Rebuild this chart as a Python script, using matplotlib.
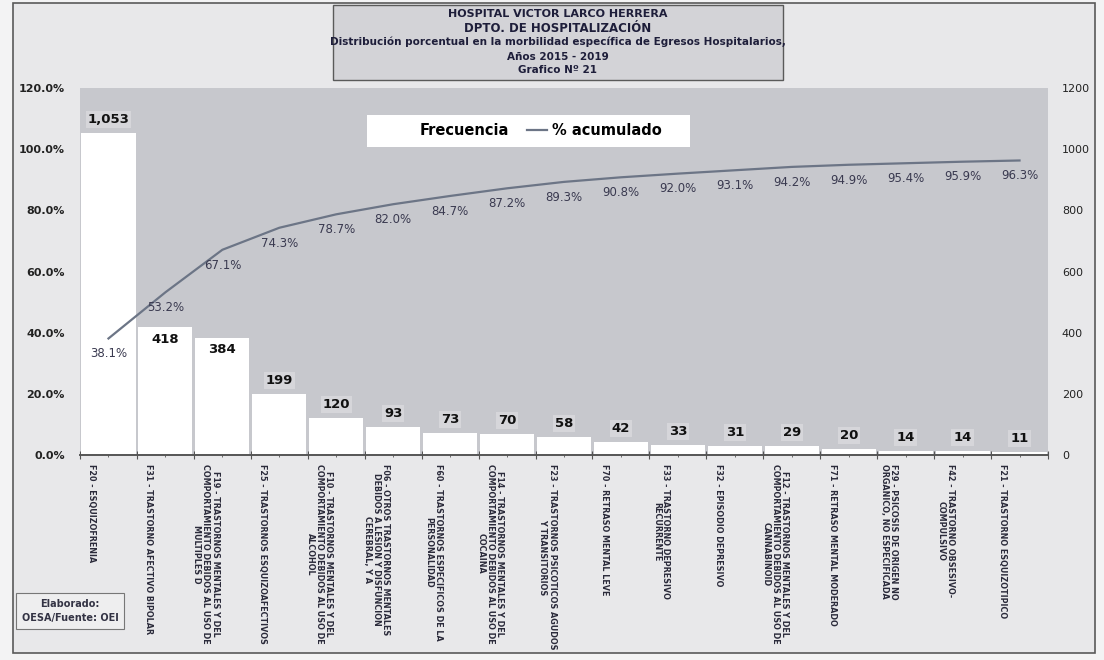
import numpy as np
import matplotlib
matplotlib.use("Agg")
import matplotlib.pyplot as plt
from matplotlib import font_manager
from matplotlib.patches import Rectangle, Patch
from matplotlib.lines import Line2D
import matplotlib.transforms as mtransforms

# data
categories = [
    "F20 - ESQUIZOFRENIA",
    "F31 - TRASTORNO AFECTIVO BIPOLAR",
    "F19 - TRASTORNOS MENTALES Y DEL\nCOMPORTAMIENTO DEBIDOS AL USO DE\nMULTIPLES D",
    "F25 - TRASTORNOS ESQUIZOAFECTIVOS",
    "F10 - TRASTORNOS MENTALES Y DEL\nCOMPORTAMIENTO DEBIDOS AL USO DE\nALCOHOL",
    "F06 - OTROS TRASTORNOS MENTALES\nDEBIDOS A LESION Y DISFUNCION\nCEREBRAL, Y A",
    "F60 - TRASTORNOS ESPECIFICOS DE LA\nPERSONALIDAD",
    "F14 - TRASTORNOS MENTALES Y DEL\nCOMPORTAMIENTO DEBIDOS AL USO DE\nCOCAINA",
    "F23 - TRASTORNOS PSICOTICOS AGUDOS\nY TRANSITORIOS",
    "F70 - RETRASO MENTAL LEVE",
    "F33 - TRASTORNO DEPRESIVO\nRECURRENTE",
    "F32 - EPISODIO DEPRESIVO",
    "F12 - TRASTORNOS MENTALES Y DEL\nCOMPORTAMIENTO DEBIDOS AL USO DE\nCANNABINOID",
    "F71 - RETRASO MENTAL MODERADO",
    "F29 - PSICOSIS DE ORIGEN NO\nORGANICO, NO ESPECIFICADA",
    "F42 - TRASTORNO OBSESIVO-\nCOMPULSIVO",
    "F21 - TRASTORNO ESQUIZOTIPICO",
]
frecuencia = [1053, 418, 384, 199, 120, 93, 73, 70, 58, 42, 33, 31, 29, 20, 14, 14, 11]
pct_acumulado = [38.1, 53.2, 67.1, 74.3, 78.7, 82.0, 84.7, 87.2, 89.3, 90.8,
                 92.0, 93.1, 94.2, 94.9, 95.4, 95.9, 96.3]
pct_ticks = [0, 20, 40, 60, 80, 100, 120]
freq_ticks = [0, 200, 400, 600, 800, 1000, 1200]

title_lines = [
    "HOSPITAL VICTOR LARCO HERRERA",
    "DPTO. DE HOSPITALIZACIÓN",
    "Distribución porcentual en la morbilidad específica de Egresos Hospitalarios,",
    "Años 2015 - 2019",
    "Grafico Nº 21",
]

# narrow face for the long category labels if we have one
names = {f.name for f in font_manager.fontManager.ttflist}
if "Liberation Sans Narrow" in names:
    label_family, label_size = "Liberation Sans Narrow", 7.0
else:
    label_family, label_size = "DejaVu Sans", 5.8

W, H = 1104, 660
fig = plt.figure(figsize=(W / 100, H / 100), dpi=100)
fig.patch.set_facecolor("#f3f3f4")

def px_rect(x0, y0, x1, y1):
    # pixel box (top-left origin) -> figure fraction rect
    return (x0 / W, 1 - y1 / H, (x1 - x0) / W, (y1 - y0) / H)

# outer frame of the chart
fx, fy, fw, fh = px_rect(13, 3, 1095, 653)
fig.patches.append(Rectangle((fx, fy), fw, fh, transform=fig.transFigure,
                             facecolor="#e8e8ea", edgecolor="#5a5a5a", lw=1.2, zorder=-5))

# title box
tx, ty, tw, th = px_rect(333, 5, 783, 80)
fig.patches.append(Rectangle((tx, ty), tw, th, transform=fig.transFigure,
                             facecolor="#d3d3d7", edgecolor="#5a5a5a", lw=1.0, zorder=-4))
title_y = [14, 28, 42, 57, 70]
title_size = [8, 8.5, 7.5, 7.5, 7.5]
for line, yy, fs in zip(title_lines, title_y, title_size):
    fig.text(558 / W, 1 - yy / H, line, ha="center", va="center",
             fontsize=fs, fontweight="bold", color="#1e1e3a", family="DejaVu Sans")

# axes: bars on primary (right scale), line on twin (left scale)
ax = fig.add_axes(px_rect(80, 88, 1048, 455))
ax.set_facecolor("#c7c8cd")
x = np.arange(len(frecuencia))
ax.bar(x, frecuencia, width=0.95, color="white", edgecolor="none", zorder=2)
ax.set_xlim(-0.5, len(frecuencia) - 0.5)
ax.set_ylim(0, 1200)

ax2 = ax.twinx()   # twinx puts ax's ticks back on the left, so set sides after this

ax.yaxis.tick_right()
ax.yaxis.set_label_position("right")
ax.set_yticks(freq_ticks)
ax.tick_params(axis="y", which="both", left=False, labelleft=False, right=False,
               labelright=True, length=0, pad=10, labelsize=8, labelcolor="#222222")

for s in ["top", "left", "right"]:
    ax.spines[s].set_visible(False)
ax.spines["bottom"].set_color("#555555")
ax.spines["bottom"].set_linewidth(1.4)

ax.set_xticks(np.arange(-0.5, len(frecuencia), 1))
ax.set_xticklabels([])
ax.set_xticks(x, categories, minor=True)
ax.tick_params(axis="x", which="major", direction="inout", length=6, color="#555555")
ax.tick_params(axis="x", which="minor", direction="inout", length=3, color="#555555", pad=5)
shift = mtransforms.ScaledTranslation(-12 / 72, 0, fig.dpi_scale_trans)
for lbl in ax.get_xticklabels(minor=True):
    lbl.set_rotation(270)
    lbl.set_ha("center")
    lbl.set_va("top")
    lbl.set_multialignment("center")
    lbl.set_family(label_family)
    lbl.set_fontsize(label_size)
    lbl.set_fontweight("bold")
    lbl.set_color("#2a2a3a")
    lbl.set_linespacing(1.05)
    lbl.set_transform(lbl.get_transform() + shift)

# bar value labels (two of them sit inside the bar in the original)
inside = {1, 2}
for i, v in enumerate(frecuencia):
    txt = f"{v:,}"
    if i in inside:
        ax.annotate(txt, (i, v), xytext=(0, -4), textcoords="offset points",
                    ha="center", va="top", fontsize=9.5, fontweight="bold", color="#111111", zorder=4)
    else:
        ax.annotate(txt, (i, v), xytext=(0, 5), textcoords="offset points",
                    ha="center", va="bottom", fontsize=9.5, fontweight="bold", color="#111111", zorder=4,
                    bbox=dict(boxstyle="square,pad=0.15", facecolor="#d6d6da", edgecolor="none"))

ax2.plot(x, pct_acumulado, color="#6c7586", lw=1.6, zorder=3)
ax2.set_ylim(0, 120)
ax2.yaxis.tick_left()
ax2.set_yticks(pct_ticks)
ax2.set_yticklabels([f"{t:.1f}%" for t in pct_ticks])
ax2.tick_params(axis="y", left=False, right=False, labelright=False, labelleft=True,
                length=0, pad=11, labelsize=8, labelcolor="#222222")
for lbl in ax2.get_yticklabels():
    lbl.set_fontweight("bold")
for s in ["top", "left", "right", "bottom"]:
    ax2.spines[s].set_visible(False)

for i, p in enumerate(pct_acumulado):
    ax2.annotate(f"{p:.1f}%", (i, p), xytext=(0, -11), textcoords="offset points",
                 ha="center", va="center", fontsize=8.5, color="#3a3a50")

# legend on a white strip
lx0 = (367 - 80) / 968
ly0 = (455 - 147) / 367
ax2.add_patch(Rectangle((lx0, ly0), (690 - 367) / 968, 32 / 367, transform=ax2.transAxes,
                        facecolor="white", edgecolor="none", zorder=5))
handles = [Patch(facecolor="white", edgecolor="none"),
           Line2D([], [], color="#6c7586", lw=1.6)]
leg = ax2.legend(handles, ["Frecuencia", "% acumulado"], ncol=2, frameon=False,
                 loc="center", bbox_to_anchor=(0.463, 0.883), handlelength=1.4,
                 handletextpad=0.3, columnspacing=1.2,
                 prop={"weight": "bold", "size": 10.5})
leg.set_zorder(6)

# source note
fig.text(70 / W, 1 - 611 / H, "Elaborado:\nOESA/Fuente: OEI", ha="center", va="center",
         fontsize=7, fontweight="bold", color="#333344", linespacing=1.5,
         bbox=dict(boxstyle="square,pad=0.6", facecolor="#eeeeef", edgecolor="#777777", lw=0.8))

fig.savefig("out.png", dpi=100, facecolor=fig.get_facecolor())
